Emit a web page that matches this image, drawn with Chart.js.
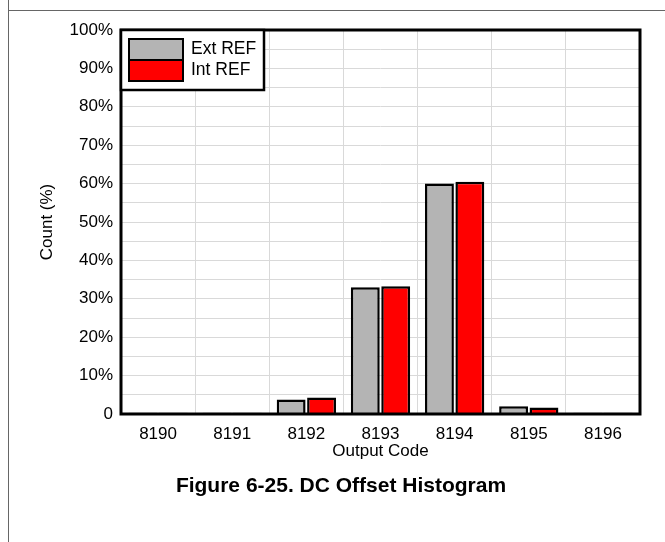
<!DOCTYPE html>
<html>
<head>
<meta charset="utf-8">
<script src="https://cdn.jsdelivr.net/npm/chart.js@4.4.1/dist/chart.umd.min.js"></script>
<style>
  body { margin: 0; background: #fff; }
  #wrap { position: relative; width: 665px; height: 542px; overflow: hidden; font-family: "Liberation Sans", Arial, sans-serif; }
  #vline { position: absolute; left: 8px; top: 0; width: 1px; height: 542px; background: #666; }
  #hline { position: absolute; left: 8px; top: 10px; width: 657px; height: 1px; background: #666; }
  #chart { position: absolute; left: 0; top: 0; }
  #caption { position: absolute; left: 0; width: 682px; top: 474px; text-align: center; font-weight: bold; font-size: 21px; line-height: 21px; color: #000; }
</style>
</head>
<body>
<div id="wrap">
  <div id="vline"></div>
  <div id="hline"></div>
  <canvas id="chart" width="665" height="542"></canvas>
  <div id="caption">Figure 6-25. DC Offset Histogram</div>
</div>
<script>
const codes = ['8190', '8191', '8192', '8193', '8194', '8195', '8196'];
const extRef = [0.3, 0.3, 3.8, 33.0, 60.0, 2.0, 0.3];
const intRef = [0.3, 0.3, 4.3, 33.3, 60.5, 1.7, 0.3];

const FONT = '"Liberation Sans", Arial, sans-serif';

// frame around the plot + legend box in the top-left corner
const plotFrame = {
  id: 'plotFrame',
  afterDatasetsDraw(chart) {
    const { ctx, chartArea: a } = chart;
    ctx.save();
    ctx.strokeStyle = '#000';
    ctx.lineWidth = 3;
    ctx.strokeRect(a.left, a.top, a.right - a.left, a.bottom - a.top);

    const lx = a.left, ly = a.top, lw = 143, lh = 60;
    ctx.fillStyle = '#fff';
    ctx.fillRect(lx, ly, lw, lh);
    ctx.lineWidth = 2.5;
    ctx.strokeRect(lx, ly, lw, lh);
    ctx.font = '17.5px ' + FONT;
    ctx.textBaseline = 'middle';
    chart.data.datasets.forEach((ds, i) => {
      const sy = ly + 9 + i * 21;
      ctx.fillStyle = ds.backgroundColor;
      ctx.fillRect(lx + 8, sy, 54, 21);
      ctx.lineWidth = 2;
      ctx.strokeRect(lx + 8, sy, 54, 21);
      ctx.fillStyle = '#000';
      ctx.fillText(ds.label, lx + 70, sy + 10.5);
    });
    ctx.restore();
  }
};

new Chart('chart', {
  type: 'bar',
  data: {
    labels: codes,
    datasets: [
      { label: 'Ext REF', data: extRef, backgroundColor: '#b4b4b4', borderColor: '#000', borderWidth: 2.5 },
      { label: 'Int REF', data: intRef, backgroundColor: '#ff0000', borderColor: '#000', borderWidth: 2.5 }
    ]
  },
  options: {
    responsive: false,
    animation: false,
    categoryPercentage: 0.82,
    barPercentage: 0.95,
    layout: { padding: { left: 33, top: 30, right: 25, bottom: 80 } },
    plugins: {
      legend: { display: false },
      tooltip: { enabled: false }
    },
    scales: {
      x: {
        grid: { color: '#d9d9d9', drawTicks: false, offset: true },
        border: { display: false },
        ticks: { color: '#000', font: { family: FONT, size: 17 }, padding: 10, maxRotation: 0 },
        title: { display: true, text: 'Output Code', color: '#000', font: { family: FONT, size: 17 }, padding: 0 },
        afterFit(s) { s.height = 48; }
      },
      y: {
        min: 0,
        max: 100,
        grid: { color: '#d9d9d9', drawTicks: false },
        border: { display: false },
        ticks: {
          stepSize: 5,
          autoSkip: false,
          color: '#000',
          font: { family: FONT, size: 17 },
          padding: 8,
          callback: v => v === 0 ? '0' : (v % 10 === 0 ? v + '%' : '')
        },
        title: { display: true, text: 'Count (%)', color: '#000', font: { family: FONT, size: 17 }, padding: 4 },
        afterFit(s) { s.width = 88; }
      }
    }
  },
  plugins: [plotFrame]
});
</script>
</body>
</html>
